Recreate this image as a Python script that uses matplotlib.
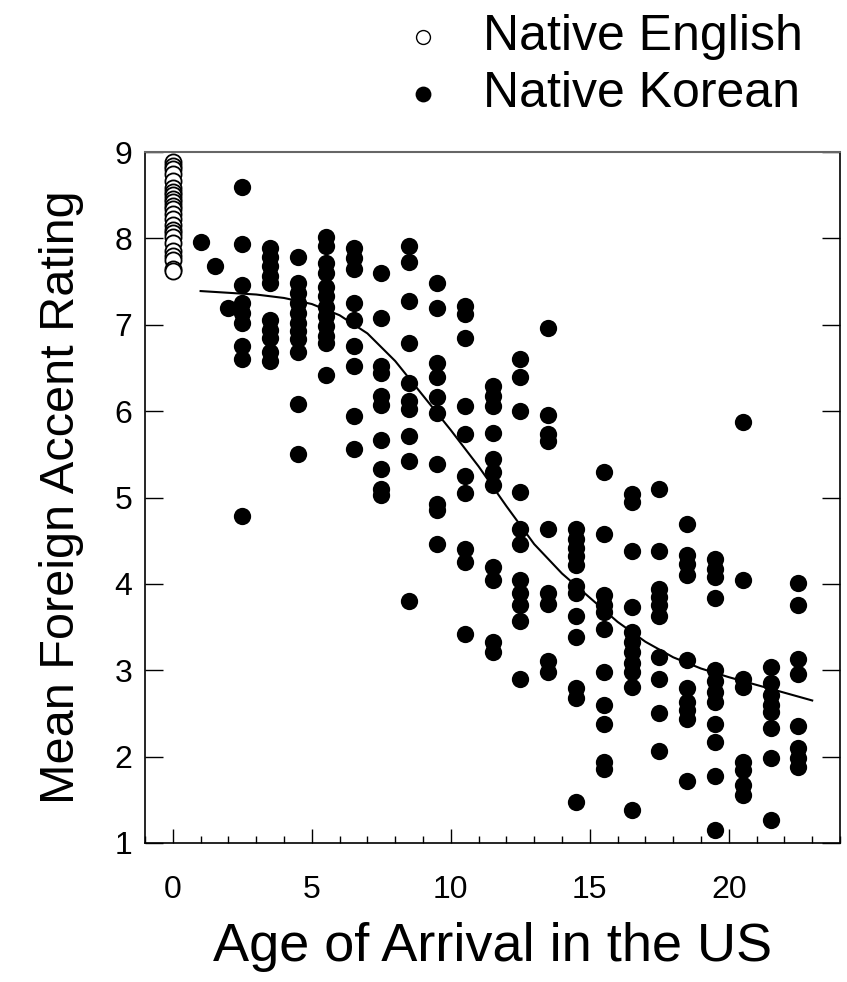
import matplotlib.pyplot as plt
from matplotlib.ticker import MultipleLocator

plt.rcParams["font.family"] = ["Liberation Sans", "DejaVu Sans"]

# native English speakers, all plotted at age 0
english_ratings = [
    8.88, 8.84, 8.80, 8.74, 8.66, 8.58, 8.54, 8.50, 8.46, 8.42, 8.38, 8.34,
    8.28, 8.22, 8.15, 8.10, 8.06, 8.02, 7.95, 7.85, 7.80, 7.75, 7.65, 7.62,
]

# native Korean speakers, grouped by age of arrival
korean_ages = [
    1, 1.5, 2, 2.5, 3.5, 4.5, 5.5, 6.5, 7.5, 8.5, 9.5, 10.5,
    11.5, 12.5, 13.5, 14.5, 15.5, 16.5, 17.5, 18.5, 19.5, 20.5, 21.5, 22.5,
]
korean_ratings = [
    [7.96],
    [7.68],
    [7.19],
    [8.59, 7.93, 7.46, 7.25, 7.14, 7.02, 6.75, 6.60, 4.79],
    [7.89, 7.79, 7.68, 7.56, 7.48, 7.06, 6.94, 6.85, 6.68, 6.58],
    [7.79, 7.48, 7.37, 7.25, 7.14, 7.02, 6.93, 6.83, 6.69, 6.08, 5.50],
    [8.02, 7.91, 7.71, 7.60, 7.44, 7.33, 7.21, 7.10, 6.98, 6.87, 6.79, 6.42],
    [7.89, 7.77, 7.64, 7.25, 7.06, 6.75, 6.52, 5.94, 5.56],
    [7.60, 7.08, 6.52, 6.44, 6.17, 6.07, 5.67, 5.33, 5.10, 5.03],
    [7.91, 7.73, 7.27, 6.79, 6.33, 6.12, 6.02, 5.71, 5.42, 3.80],
    [7.48, 7.19, 6.56, 6.39, 6.16, 5.98, 5.39, 4.92, 4.85, 4.46],
    [7.22, 7.12, 6.85, 6.06, 5.73, 5.25, 5.05, 4.40, 4.25, 3.42],
    [6.29, 6.17, 6.06, 5.75, 5.44, 5.29, 5.14, 4.19, 4.05, 3.33, 3.21],
    [6.60, 6.39, 6.00, 5.06, 4.63, 4.46, 4.05, 3.90, 3.75, 3.57, 2.90],
    [6.96, 5.96, 5.73, 5.65, 4.63, 3.90, 3.77, 3.11, 2.98],
    [4.63, 4.52, 4.42, 4.32, 4.22, 3.98, 3.90, 3.63, 3.38, 2.79, 2.68, 1.48],
    [5.29, 4.58, 3.87, 3.75, 3.67, 3.48, 2.98, 2.60, 2.38, 1.94, 1.86],
    [5.04, 4.95, 4.38, 3.73, 3.44, 3.33, 3.21, 3.08, 2.98, 2.81, 1.38],
    [5.10, 4.38, 3.94, 3.85, 3.75, 3.63, 3.15, 2.90, 2.50, 2.06],
    [4.69, 4.33, 4.23, 4.10, 3.12, 2.80, 2.63, 2.54, 2.44, 1.72],
    [4.29, 4.17, 4.08, 3.84, 3.00, 2.87, 2.75, 2.63, 2.38, 2.17, 1.77, 1.15],
    [5.87, 4.04, 2.90, 2.81, 1.94, 1.84, 1.67, 1.56],
    [3.04, 2.85, 2.71, 2.60, 2.52, 2.33, 1.98, 1.27],
    [4.01, 3.75, 3.13, 2.96, 2.35, 2.10, 1.98, 1.88],
]

# fitted curve
curve_ages = list(range(1, 24))
curve_ratings = [
    7.39, 7.37, 7.35, 7.31, 7.24, 7.11, 6.90, 6.58, 6.18, 5.78, 5.36, 4.90,
    4.46, 4.12, 3.84, 3.56, 3.33, 3.15, 3.02, 2.92, 2.83, 2.74, 2.65,
]

korean_x = [age for age, col in zip(korean_ages, korean_ratings) for _ in col]
korean_y = [r for col in korean_ratings for r in col]
english_x = [0] * len(english_ratings)

fig = plt.figure(figsize=(8.47, 9.82), dpi=100)
ax = fig.add_axes([145 / 847, 1 - 843 / 982, 695 / 847, 691 / 982])

ax.plot(curve_ages, curve_ratings, color="black", lw=1.5, zorder=2)
k = ax.scatter(korean_x, korean_y, s=155, color="black", linewidths=0,
               zorder=3, label="Native Korean")
e = ax.scatter(english_x, english_ratings, s=135, facecolor="white",
               edgecolor="black", linewidths=1.3, zorder=3,
               label="Native English")

ax.set_xlim(-1, 24)
ax.set_ylim(1, 9)
ax.xaxis.set_major_locator(MultipleLocator(5))
ax.xaxis.set_minor_locator(MultipleLocator(1))
ax.yaxis.set_major_locator(MultipleLocator(1))

ax.tick_params(axis="y", which="major", direction="in", length=13, width=1,
               labelsize=23, pad=9, right=True)
ax.tick_params(axis="x", which="major", direction="in", length=10, width=1,
               labelsize=23, pad=23)
ax.tick_params(axis="x", which="minor", direction="in", length=5, width=1)

for side in ["left", "bottom", "right"]:
    ax.spines[side].set_linewidth(1.2)
ax.spines["top"].set_color("#666666")
ax.spines["top"].set_linewidth(1.5)

ax.set_xlabel("Age of Arrival in the US", fontsize=39, labelpad=12)
ax.set_ylabel("Mean Foreign Accent Rating", fontsize=35, labelpad=22)

leg = fig.legend(
    [e, k], ["Native English", "Native Korean"],
    loc="upper left", bbox_to_anchor=(413 / 847, 1 - 14 / 982),
    frameon=False, fontsize=36, handlelength=0.4, handletextpad=1.0,
    borderpad=0, borderaxespad=0, labelspacing=0.22,
)
leg.legend_handles[0].set_sizes([100])
leg.legend_handles[0].set_linewidth(1.0)
leg.legend_handles[1].set_sizes([130])

fig.savefig("out.png", dpi=100)
